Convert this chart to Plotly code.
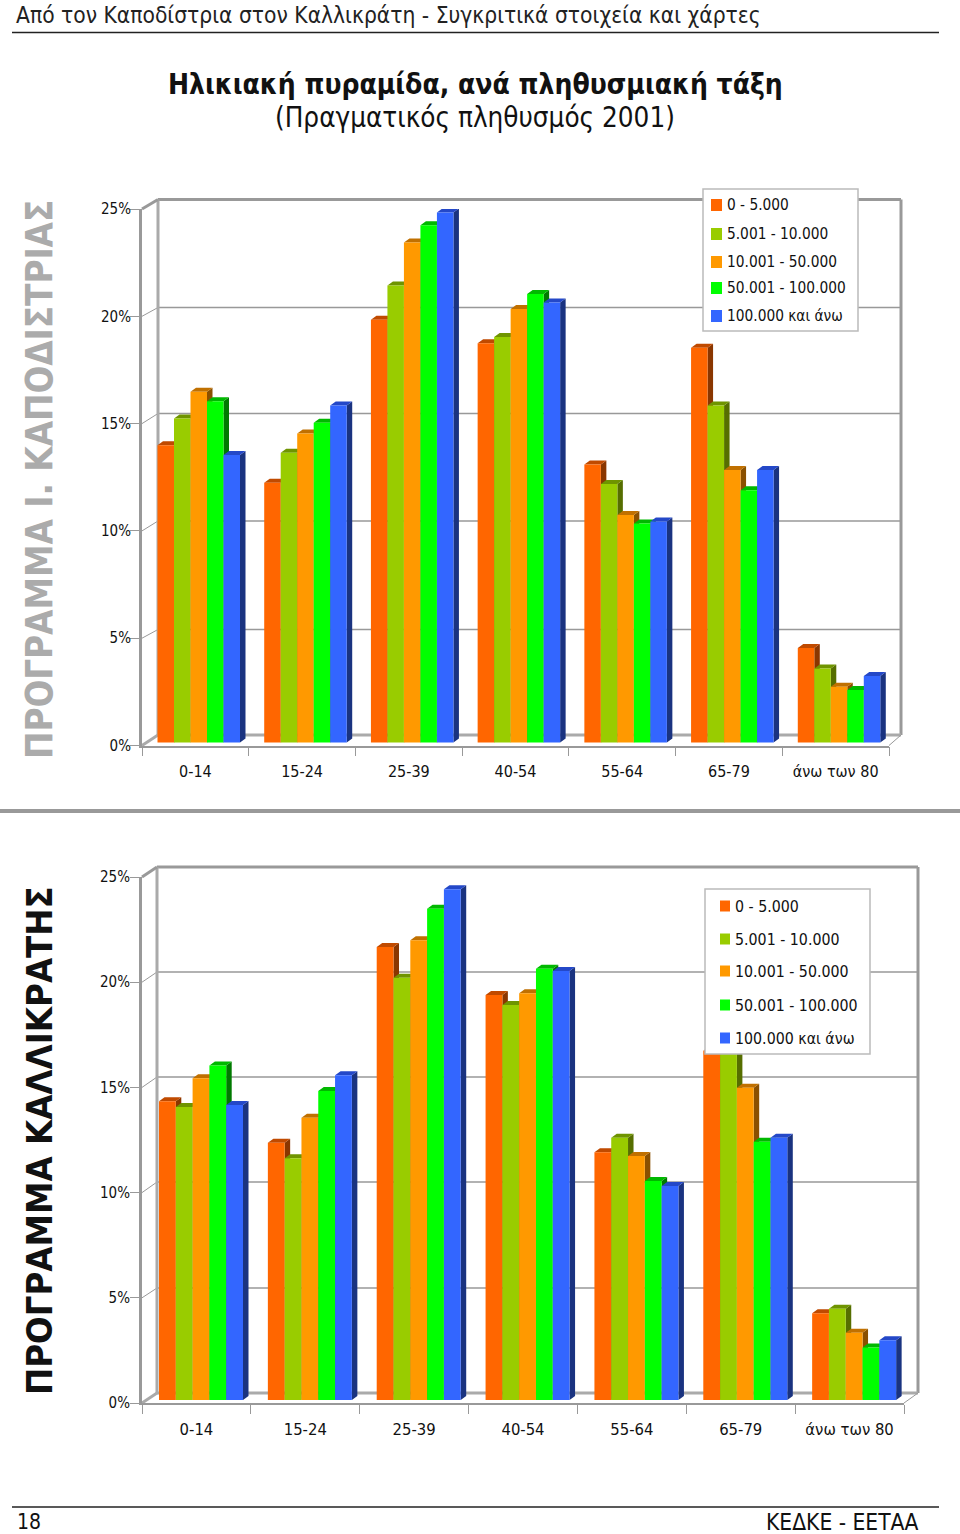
import plotly.graph_objects as go

W, H = 960, 1534
FONT = "DejaVu Sans Condensed, DejaVu Sans"

age_groups = ["0-14", "15-24", "25-39", "40-54", "55-64", "65-79", "άνω των 80"]
size_classes = ["0 - 5.000", "5.001 - 10.000", "10.001 - 50.000", "50.001 - 100.000", "100.000 και άνω"]
y_ticks = [0, 5, 10, 15, 20, 25]
y_tick_labels = ["0%", "5%", "10%", "15%", "20%", "25%"]

kapodistrias_0_5k = [13.85, 12.1, 19.7, 18.6, 12.95, 18.4, 4.4]
kapodistrias_5_10k = [15.1, 13.5, 21.3, 18.9, 12.05, 15.7, 3.45]
kapodistrias_10_50k = [16.35, 14.4, 23.3, 20.2, 10.6, 12.7, 2.6]
kapodistrias_50_100k = [15.9, 14.9, 24.1, 20.9, 10.2, 11.75, 2.45]
kapodistrias_100k = [13.4, 15.7, 24.7, 20.5, 10.3, 12.7, 3.1]

kallikratis_0_5k = [14.2, 12.23, 21.53, 19.25, 11.77, 16.6, 4.12]
kallikratis_5_10k = [13.93, 11.49, 20.07, 18.77, 12.47, 17.0, 4.34]
kallikratis_10_50k = [15.29, 13.42, 21.85, 19.33, 11.6, 14.84, 3.2]
kallikratis_50_100k = [15.9, 14.69, 23.35, 20.5, 10.41, 12.28, 2.49]
kallikratis_100k = [14.02, 15.43, 24.27, 20.39, 10.17, 12.47, 2.84]

front_colors = ["#FF6600", "#99CC00", "#FF9900", "#00FF00", "#3366FF"]
top_colors = ["#C04A00", "#6F9400", "#C07000", "#00B800", "#2448C8"]
side_colors = ["#8A3600", "#566E00", "#8A5000", "#007A00", "#1A3380"]
GREY = "#999999"

panels = [
    dict(series=[kapodistrias_0_5k, kapodistrias_5_10k, kapodistrias_10_50k, kapodistrias_50_100k, kapodistrias_100k],
         ax="", ax_top="3", x0=142, x1=889, y0=745.5, y25=209, base_px=742.5, lead=15.5, bar=16.5,
         depth_x=5.5, depth_y=4, back_l=158, back_r=901, back_t=199.5, back_b=735,
         grid=[629.5, 521, 413.5, 307.5], tick_size=16, y_tick_size=15, stand=11, y_stand=-4,
         legend=dict(box=(703, 189, 858, 331), sw=(711, 722), txt=727, ys=[205, 234, 262, 288, 316], size=15.3)),
    dict(series=[kallikratis_0_5k, kallikratis_5_10k, kallikratis_10_50k, kallikratis_50_100k, kallikratis_100k],
         ax="2", ax_top="4", x0=142, x1=904, y0=1403, y25=877, base_px=1400, lead=17, bar=16.8,
         depth_x=5.5, depth_y=4, back_l=157, back_r=918, back_t=867, back_b=1393,
         grid=[1288, 1182, 1077, 972], tick_size=16.5, y_tick_size=15, stand=10, y_stand=-3,
         legend=dict(box=(705, 889, 870, 1054), sw=(720, 730), txt=735, ys=[906, 939, 971, 1005, 1038], size=15.8)),
]

fig = go.Figure()
shapes, annots = [], []


def px(x):
    return x / W


def py(y):
    return 1 - y / H


def line(x0, y0, x1, y1, color=GREY, width=1.5, layer="below"):
    shapes.append(dict(type="line", xref="paper", yref="paper", x0=px(x0), y0=py(y0), x1=px(x1), y1=py(y1),
                       line=dict(color=color, width=width), layer=layer))


def text(x, y, s, size, color="#111111", anchor="left", weight="normal", angle=0, family=FONT):
    annots.append(dict(xref="paper", yref="paper", x=px(x), y=py(y), text=s, showarrow=False, xanchor=anchor,
                       yanchor="middle", textangle=angle, borderpad=0,
                       font=dict(size=size, color=color, family=family, weight=weight)))


layout_axes = {}
for p in panels:
    band = (p["x1"] - p["x0"]) / len(age_groups)
    unit = (p["y0"] - p["y25"]) / 25
    dx, dy = p["depth_x"] / band, p["depth_y"] / unit
    base = (p["y0"] - p["base_px"]) / unit
    bw = p["bar"] / band
    lead = p["lead"] / band

    # depth faces on the lower subplot, painted series by series
    for k, vals in enumerate(p["series"]):
        side_x, side_y, top_x, top_y = [], [], [], []
        for i, v in enumerate(vals):
            xl = i + lead + k * bw
            xr = xl + bw
            t = base + v
            side_x += [xr, xr + dx, xr + dx, xr, xr, None]
            side_y += [base, base + dy, t + dy, t, base, None]
            top_x += [xl, xl + dx, xr + dx, xr, xl, None]
            top_y += [t, t + dy, t + dy, t, t, None]
        for xs, ys, c in ((side_x, side_y, side_colors[k]), (top_x, top_y, top_colors[k])):
            fig.add_trace(go.Scatter(x=xs, y=ys, mode="lines", fill="toself", fillcolor=c, line=dict(width=0, color=c),
                                     hoverinfo="skip", showlegend=False, cliponaxis=False,
                                     xaxis="x" + p["ax"], yaxis="y" + p["ax"]))
    # front faces on the overlaid subplot
    for k, vals in enumerate(p["series"]):
        fig.add_trace(go.Bar(name=size_classes[k], x=[i + lead + (k + 0.5) * bw for i in range(len(vals))], y=vals,
                             base=[base] * len(vals), width=bw, marker=dict(color=front_colors[k], line=dict(width=0)),
                             showlegend=False, xaxis="x" + p["ax_top"], yaxis="y" + p["ax_top"]))

    xdom = [px(p["x0"]), px(p["x1"])]
    ydom = [py(p["y0"]), py(p["y25"])]
    xname, yname = "xaxis" + p["ax"], "yaxis" + p["ax"]
    xref, yref = "x" + p["ax"], "y" + p["ax"]
    layout_axes[xname] = dict(domain=xdom, range=[0, 7], anchor=yref, showgrid=False, zeroline=False, automargin=False,
                              tickvals=[i + 0.5 for i in range(7)], ticktext=age_groups, ticks="",
                              minor=dict(tickvals=list(range(8)), ticks="outside", ticklen=9, tickcolor=GREY, tickwidth=1),
                              showline=True, linecolor=GREY, linewidth=1.5, ticklabelstandoff=p["stand"],
                              tickfont=dict(size=p["tick_size"], color="#111111", family=FONT))
    layout_axes[yname] = dict(domain=ydom, range=[0, 25], anchor=xref, showgrid=False, zeroline=False, automargin=False,
                              tickvals=y_ticks, ticktext=y_tick_labels, ticks="outside", ticklen=9, tickcolor=GREY,
                              tickwidth=1, showline=True, linecolor=GREY, linewidth=3, ticklabelstandoff=p["y_stand"],
                              tickfont=dict(size=p["y_tick_size"], color="#111111", family=FONT))
    layout_axes["xaxis" + p["ax_top"]] = dict(domain=xdom, range=[0, 7], overlaying=xref, visible=False,
                                              anchor="y" + p["ax_top"], automargin=False)
    layout_axes["yaxis" + p["ax_top"]] = dict(domain=ydom, range=[0, 25], overlaying=yref, visible=False,
                                              anchor="x" + p["ax_top"], automargin=False)

    # wall frame
    l, r, t, b = p["back_l"], p["back_r"], p["back_t"], p["back_b"]
    x0 = p["x0"]
    for g in p["grid"]:
        line(l, g, r, g)
    for g, f in zip(p["grid"], [p["y0"] - unit * v for v in (5, 10, 15, 20)]):
        line(x0, f, l, g, width=1)
    line(l, t, r, t, width=3)
    line(l, t, l, b, "#AAAAAA", 3)
    line(r, t, r, b, width=3)
    line(l, b, r, b, "#AAAAAA", 3)
    line(x0, p["y25"], l, t, width=3)
    line(x0, p["y0"], l, b, "#AAAAAA", 3)
    line(p["x1"], p["y0"], r, b, width=1)

    # legend box
    lg = p["legend"]
    bx0, by0, bx1, by1 = lg["box"]
    shapes.append(dict(type="rect", xref="paper", yref="paper", x0=px(bx0), y0=py(by1), x1=px(bx1), y1=py(by0),
                       fillcolor="white", line=dict(color="#BBBBBB", width=1.5), layer="above"))
    sw0, sw1 = lg["sw"]
    half = (sw1 - sw0) / 2 + 0.5
    for k, ym in enumerate(lg["ys"]):
        shapes.append(dict(type="rect", xref="paper", yref="paper", x0=px(sw0), x1=px(sw1), y0=py(ym + half),
                           y1=py(ym - half), fillcolor=front_colors[k], line=dict(width=0), layer="above"))
        text(lg["txt"] - 1, ym, size_classes[k], lg["size"], color="#111111")

# page furniture
line(12, 32.5, 939, 32.5, "#222222", 1.5)
line(0, 811, 960, 811, "#999999", 4)
line(12, 1507, 939, 1507, "#222222", 1.5)
text(15, 15, "Από τον Καποδίστρια στον Καλλικράτη - Συγκριτικά στοιχεία και χάρτες", 22.6, "#222222")
text(475, 84, "Ηλικιακή πυραμίδα, ανά πληθυσμιακή τάξη", 28, "#111111", "center", "bold")
text(475, 118, "(Πραγματικός πληθυσμός 2001)", 27.6, "#111111", "center")
text(39, 480, "ΠΡΟΓΡΑΜΜΑ Ι. ΚΑΠΟΔΙΣΤΡΙΑΣ", 36.4, "#ABABAB", "center", "bold", -90)
text(39, 1141, "ΠΡΟΓΡΑΜΜΑ ΚΑΛΛΙΚΡΑΤΗΣ", 36.2, "#111111", "center", "bold", -90)
text(16, 1522, "18", 21, "#111111")
text(919, 1522, "ΚΕΔΚΕ - ΕΕΤΑΑ", 22.6, "#111111", "right")

fig.update_layout(template="none", width=W, height=H, margin=dict(l=0, r=0, t=0, b=0, pad=0, autoexpand=False),
                  autosize=False, paper_bgcolor="white", plot_bgcolor="rgba(0,0,0,0)", barmode="overlay",
                  showlegend=False, shapes=shapes, annotations=annots, font=dict(family=FONT), **layout_axes)
fig.write_html("out.html", post_script="document.body.style.margin='0';", config={"displayModeBar": False})
